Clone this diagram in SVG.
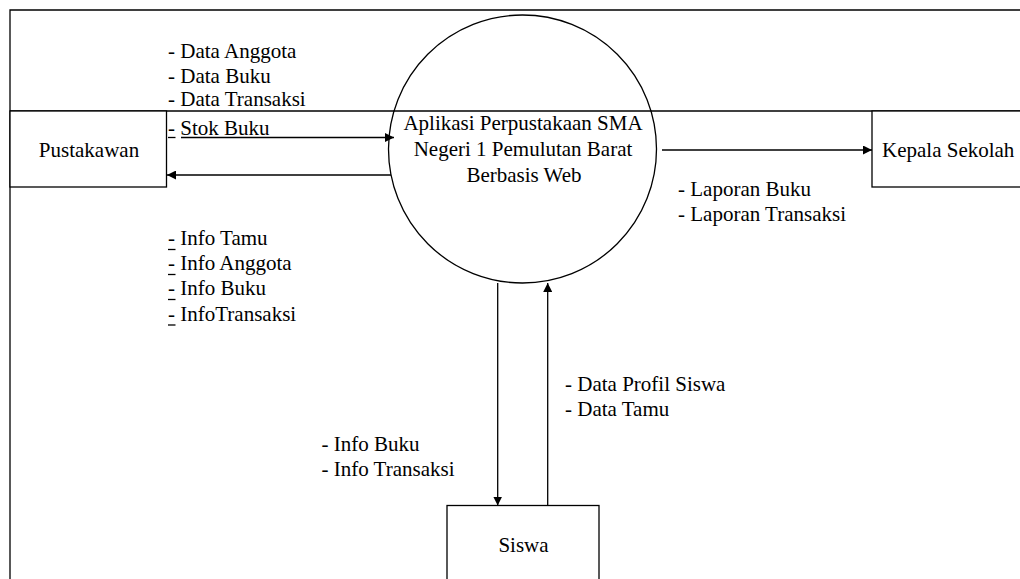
<svg xmlns="http://www.w3.org/2000/svg" width="1020" height="579" viewBox="0 0 1020 579" font-family="'Liberation Serif', 'Times New Roman', serif" font-size="21">
  <style>
    .ln { fill: none; stroke: #000; stroke-width: 1.3; }
    .box { fill: #fff; stroke: #000; stroke-width: 1.3; }
    .c { text-anchor: middle; }
  </style>
  <defs>
    <marker id="ah" viewBox="0 0 10 10" refX="10" refY="5" markerWidth="9" markerHeight="9" markerUnits="userSpaceOnUse" orient="auto">
      <path d="M0,0 L10,5 L0,10 Z" fill="#000"/>
    </marker>
  </defs>
  <rect width="1020" height="579" fill="#fff"/>

  <g id="frame">
    <path class="ln" d="M10,579 V10 H1020"/>
    <path class="ln" d="M10,111 H1020"/>
  </g>

  <g id="process">
    <circle cx="522.5" cy="149" r="134" fill="none" stroke="#000" stroke-width="1.3"/>
    <text class="c" x="523" y="129.5">Aplikasi Perpustakaan SMA</text>
    <text class="c" x="523" y="155.5">Negeri 1 Pemulutan Barat</text>
    <text class="c" x="524" y="181.5">Berbasis Web</text>
  </g>

  <g id="pustakawan">
    <rect class="box" x="10" y="111" width="156.5" height="76"/>
    <text class="c" x="89" y="157">Pustakawan</text>
  </g>

  <g id="kepala-sekolah">
    <rect class="box" x="872" y="111" width="160" height="76"/>
    <text x="882" y="157">Kepala Sekolah</text>
  </g>

  <g id="siswa">
    <rect class="box" x="447" y="505.5" width="152" height="90"/>
    <text class="c" x="523.5" y="552">Siswa</text>
  </g>

  <g id="connectors">
    <line class="ln" x1="181" y1="137.5" x2="394" y2="137.5" marker-end="url(#ah)"/>
    <line class="ln" x1="391" y1="175" x2="167" y2="175" marker-end="url(#ah)"/>
    <line class="ln" x1="662" y1="150" x2="872" y2="150" marker-end="url(#ah)"/>
    <line class="ln" x1="497.7" y1="283" x2="497.7" y2="505.5" marker-end="url(#ah)"/>
    <line class="ln" x1="547.7" y1="505.5" x2="547.7" y2="283" marker-end="url(#ah)"/>
  </g>

  <g id="labels">
    <text x="168" y="57.5">- Data Anggota</text>
    <text x="168" y="82.5">- Data Buku</text>
    <text x="168" y="106">- Data Transaksi</text>
    <text x="168" y="135">- Stok Buku</text>
    <line class="ln" x1="168" y1="137.5" x2="175.5" y2="137.5"/>

    <text x="168" y="245">- Info Tamu</text>
    <text x="168" y="270">- Info Anggota</text>
    <text x="168" y="295">- Info Buku</text>
    <text x="168" y="320.5">- InfoTransaksi</text>
    <line class="ln" x1="168" y1="249.5" x2="175.5" y2="249.5"/>
    <line class="ln" x1="168" y1="274.5" x2="175.5" y2="274.5"/>
    <line class="ln" x1="168" y1="299.5" x2="175.5" y2="299.5"/>
    <line class="ln" x1="168" y1="325" x2="175.5" y2="325"/>

    <text x="678" y="196">- Laporan Buku</text>
    <text x="678" y="220.5">- Laporan Transaksi</text>

    <text x="565" y="391">- Data Profil Siswa</text>
    <text x="565" y="416">- Data Tamu</text>

    <text x="321.5" y="451">- Info Buku</text>
    <text x="321.5" y="476">- Info Transaksi</text>
  </g>
</svg>
